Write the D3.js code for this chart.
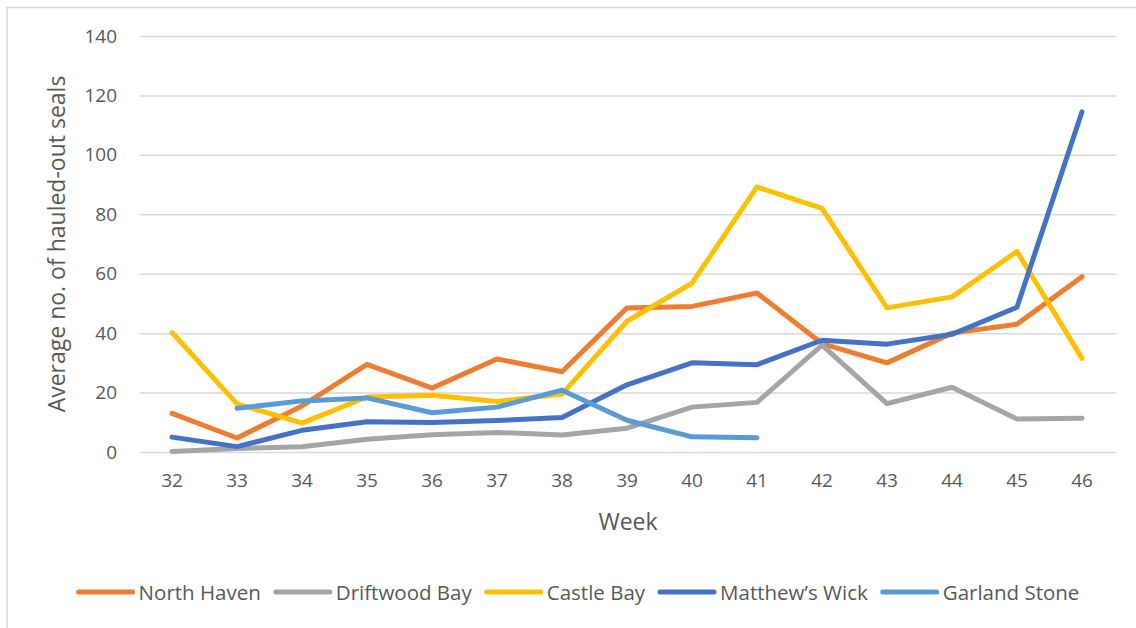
<!DOCTYPE html>
<html>
<head>
<meta charset="utf-8">
<script src="https://cdn.jsdelivr.net/npm/d3@7"></script>
<style>
  html, body { margin: 0; padding: 0; background: #fff; }
  svg { display: block; }
  text { font-family: "Open Sans", "Liberation Sans", sans-serif; }
</style>
</head>
<body>
<svg id="chart" width="1136" height="628"></svg>
<script>
// Weekly averages of hauled-out seals at each site
const weeks = [32, 33, 34, 35, 36, 37, 38, 39, 40, 41, 42, 43, 44, 45, 46];
const northHaven   = [13, 4.7, 15.5, 29.5, 21.5, 31.3, 27, 48.5, 49, 53.5, 36.5, 30, 40, 43, 59];
const driftwoodBay = [0.2, 1.2, 1.8, 4.3, 5.8, 6.6, 5.7, 8, 15.1, 16.7, 36, 16.3, 21.8, 11.1, 11.4];
const castleBay    = [40.2, 16.2, 9.7, 18.5, 19.1, 17, 19.5, 44, 56.8, 89.2, 82, 48.5, 52.2, 67.5, 31.5];
const matthewsWick = [5, 1.8, 7.3, 10.2, 9.9, 10.6, 11.6, 22.6, 30, 29.4, 37.6, 36.3, 39.6, 48.7, 114.5];
const garlandStone = [null, 14.7, 17.2, 18.2, 13.2, 15.1, 20.8, 10.7, 5.1, 4.8, null, null, null, null, null];
const yTicks = [0, 20, 40, 60, 80, 100, 120, 140];

const seriesNames  = ["North Haven", "Driftwood Bay", "Castle Bay", "Matthew\u2019s Wick", "Garland Stone"];
const seriesValues = [northHaven, driftwoodBay, castleBay, matthewsWick, garlandStone];
const seriesColors = ["#ED7D31", "#A5A5A5", "#FFC000", "#4472C4", "#5B9BD5"];

const svg = d3.select("#chart");

// Chart area border
svg.append("rect")
  .attr("x", 7).attr("y", 7.5).attr("width", 1300).attr("height", 800)
  .attr("fill", "#fff").attr("stroke", "#D9D9D9").attr("stroke-width", 1.5);

const x = d3.scaleBand().domain(weeks).range([139.5, 1114.5]);
const xc = w => x(w) + x.bandwidth() / 2;
const y = d3.scaleLinear().domain([0, 140]).range([452, 36]);

// Horizontal gridlines
svg.append("g")
  .attr("transform", "translate(139.5,0)")
  .call(d3.axisLeft(y).tickValues(yTicks).tickSize(-976.5).tickFormat(""))
  .call(g => g.select(".domain").remove())
  .call(g => g.selectAll("line").attr("stroke", "#D9D9D9").attr("stroke-width", 1.5));

// Y tick labels
svg.append("g")
  .attr("transform", "translate(117,0)")
  .call(d3.axisLeft(y).tickValues(yTicks).tickSize(0).tickPadding(0))
  .call(g => g.select(".domain").remove())
  .call(g => g.selectAll("text")
    .style("font-size", "19px").attr("fill", "#595959")
    .style("font-family", "'Open Sans', sans-serif"));

// X tick labels
svg.append("g")
  .attr("transform", "translate(0,473)")
  .call(d3.axisBottom(x).tickSize(0).tickPadding(0))
  .call(g => g.select(".domain").remove())
  .call(g => g.selectAll("text")
    .style("font-size", "19px").attr("fill", "#595959")
    .style("font-family", "'Open Sans', sans-serif"));

// Axis titles
svg.append("text")
  .attr("x", 628).attr("y", 530)
  .attr("text-anchor", "middle")
  .style("font-size", "23px").attr("fill", "#595959")
  .text("Week");

svg.append("text")
  .attr("transform", "translate(65,244) rotate(-90)")
  .attr("text-anchor", "middle")
  .style("font-size", "23px").attr("fill", "#595959")
  .text("Average no. of hauled-out seals");

// Series lines
const line = d3.line()
  .defined(d => d.v !== null)
  .x(d => xc(d.w))
  .y(d => y(d.v));

seriesValues.forEach((vals, i) => {
  svg.append("path")
    .datum(weeks.map((w, j) => ({ w, v: vals[j] })))
    .attr("d", line)
    .attr("fill", "none")
    .attr("stroke", seriesColors[i])
    .attr("stroke-width", 5)
    .attr("stroke-linejoin", "round")
    .attr("stroke-linecap", "round");
});

// Legend
const legend = svg.append("g").attr("transform", "translate(0,592)");
const items = seriesNames.map((name, i) => {
  const g = legend.append("g");
  g.append("line")
    .attr("x1", 0).attr("x2", 54).attr("y1", 0).attr("y2", 0)
    .attr("stroke", seriesColors[i]).attr("stroke-width", 5).attr("stroke-linecap", "round");
  const t = g.append("text")
    .attr("x", 60).attr("y", 7.5)
    .style("font-size", "20.5px").attr("fill", "#595959")
    .text(name);
  return { g, w: 60 + t.node().getComputedTextLength() };
});
const gap = 15;
const total = d3.sum(items, d => d.w) + gap * (items.length - 1);
let cx = 579 - total / 2;
items.forEach(it => {
  it.g.attr("transform", `translate(${cx},0)`);
  cx += it.w + gap;
});
</script>
</body>
</html>
